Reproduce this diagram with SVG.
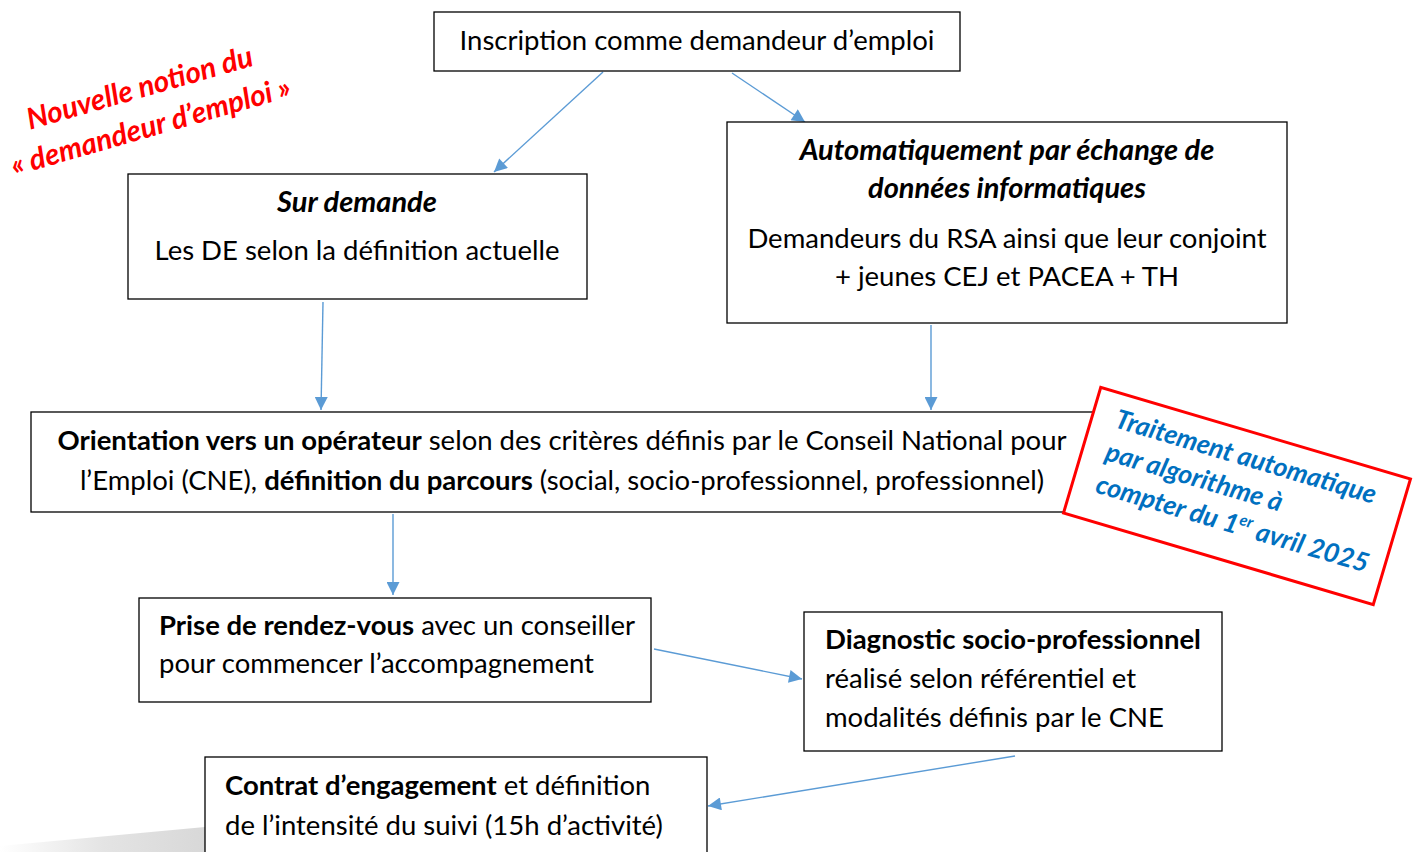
<svg xmlns="http://www.w3.org/2000/svg" width="1420" height="852" viewBox="0 0 1420 852">
<defs>
<style>
.box{fill:#fff;stroke:#000;stroke-width:1.3}
.t{font-family:Lato,"Liberation Sans",sans-serif;font-size:27.5px;fill:#000}
.b{font-weight:bold}
.bi{font-weight:bold;font-style:italic;font-size:29px}
.c{text-anchor:middle}
.conn{stroke:#5B9BD5;stroke-width:1.4;fill:none}
.red{font-family:Lato,"Liberation Sans",sans-serif;font-size:29.5px;font-weight:bold;font-style:italic;fill:#FF0000;text-anchor:middle}
.blue{font-family:Lato,"Liberation Sans",sans-serif;font-size:26.5px;font-weight:bold;font-style:italic;fill:#0070C0}
</style>
<marker id="ah2" viewBox="0 0 10 10" refX="10" refY="5" markerWidth="15" markerHeight="13" markerUnits="userSpaceOnUse" orient="auto">
<path d="M0,0 L10,5 L0,10 z" fill="#5B9BD5"/>
</marker>
<linearGradient id="gr" x1="0" y1="0" x2="1" y2="0">
<stop offset="0" stop-color="#ffffff"/>
<stop offset="0.5" stop-color="#e4e4e4"/>
<stop offset="1" stop-color="#d8d8d8"/>
</linearGradient>
</defs>
<rect width="1420" height="852" fill="#fff"/>
<polygon points="0,846 205,827 205,852 0,852" fill="url(#gr)"/>

<g id="connectors">
<line class="conn" marker-end="url(#ah2)" x1="603" y1="72" x2="494" y2="172"/>
<line class="conn" marker-end="url(#ah2)" x1="732" y1="73" x2="805" y2="122"/>
<line class="conn" marker-end="url(#ah2)" x1="323" y1="302" x2="321" y2="410"/>
<line class="conn" marker-end="url(#ah2)" x1="931" y1="325" x2="931" y2="410"/>
<line class="conn" marker-end="url(#ah2)" x1="393" y1="514" x2="393" y2="595"/>
<line class="conn" marker-end="url(#ah2)" x1="654" y1="649" x2="802" y2="679"/>
<line class="conn" marker-end="url(#ah2)" x1="1015" y1="756" x2="708" y2="806"/>
</g>

<g id="inscription">
<rect class="box" x="434" y="12" width="526" height="59"/>
<text class="t c" x="697" y="50">Inscription comme demandeur d’emploi</text>
</g>

<g id="sur-demande">
<rect class="box" x="128" y="174" width="459" height="125"/>
<text class="t c bi" x="357" y="212">Sur demande</text>
<text class="t c" x="357" y="260">Les DE selon la définition actuelle</text>
</g>

<g id="automatiquement">
<rect class="box" x="727" y="122" width="560" height="201"/>
<text class="t c bi" x="1007" y="160">Automatiquement par échange de</text>
<text class="t c bi" x="1007" y="198">données informatiques</text>
<text class="t c" x="1007" y="248">Demandeurs du RSA ainsi que leur conjoint</text>
<text class="t c" x="1007" y="286">+ jeunes CEJ et PACEA + TH</text>
</g>

<g id="orientation">
<rect class="box" x="31" y="412" width="1062" height="100"/>
<text class="t c" x="562" y="450"><tspan class="b">Orientation vers un opérateur</tspan> selon des critères définis par le Conseil National pour</text>
<text class="t c" x="562" y="490">l’Emploi (CNE), <tspan class="b">définition du parcours</tspan> (social, socio-professionnel, professionnel)</text>
</g>

<g id="traitement">
<g transform="translate(1237,496) rotate(16.5)">
<rect x="-161.5" y="-65.5" width="323" height="131" fill="#fff" stroke="#FF0000" stroke-width="3"/>
<text class="blue" x="-138" y="-31">Traitement automatique</text>
<text class="blue" x="-138" y="3">par algorithme à</text>
<text class="blue" x="-138" y="37">compter du 1<tspan font-size="16" dy="-10">er</tspan><tspan dy="10"> avril 2025</tspan></text>
</g>
</g>

<g id="nouvelle-notion">
<g transform="translate(146,110) rotate(-16)">
<text class="red" x="0" y="-13">Nouvelle notion du</text>
<text class="red" x="0" y="27">« demandeur d’emploi »</text>
</g>
</g>

<g id="prise-rdv">
<rect class="box" x="139" y="598" width="512" height="104"/>
<text class="t" x="159" y="635"><tspan class="b">Prise de rendez-vous</tspan> avec un conseiller</text>
<text class="t" x="159" y="673">pour commencer l’accompagnement</text>
</g>

<g id="diagnostic">
<rect class="box" x="804" y="612" width="418" height="139"/>
<text class="t b" x="825" y="649">Diagnostic socio-professionnel</text>
<text class="t" x="825" y="688">réalisé selon référentiel et</text>
<text class="t" x="825" y="727">modalités définis par le CNE</text>
</g>

<g id="contrat">
<rect class="box" x="205" y="757" width="502" height="110"/>
<text class="t" x="225" y="795"><tspan class="b">Contrat d’engagement</tspan> et définition</text>
<text class="t" x="225" y="835">de l’intensité du suivi (15h d’activité)</text>
</g>
</svg>
